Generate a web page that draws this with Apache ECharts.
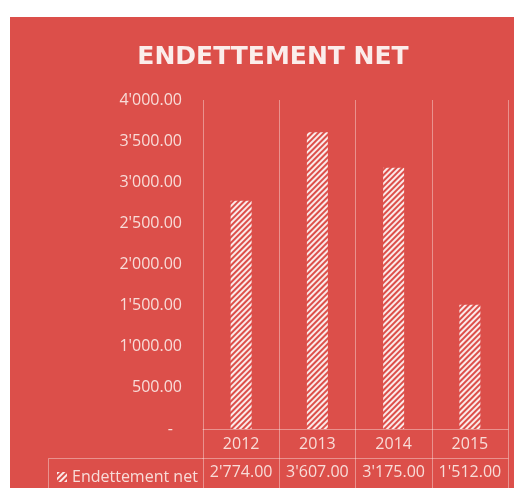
<!DOCTYPE html>
<html>
<head>
<meta charset="utf-8">
<script src="https://cdn.jsdelivr.net/npm/echarts@6/dist/echarts.min.js"></script>
<style>
html,body{margin:0;padding:0;background:#fff;}
#c{width:514px;height:488px;}
</style>
</head>
<body>
<div id="c"></div>
<script>
var titleText = 'ENDETTEMENT NET';
var seriesName = 'Endettement net';
var categories = ['2012', '2013', '2014', '2015'];
var values = [2774, 3607, 3175, 1512];
var yTicks = { min: 0, max: 4000, interval: 500 };

var RED = '#DC4F4A';
var TXT = '#F8DCD8';
var LINE = 'rgba(255,255,255,0.38)';

function fmt(v) {
  var s = v.toFixed(2);
  var parts = s.split('.');
  parts[0] = parts[0].replace(/\B(?=(\d{3})+(?!\d))/g, "'");
  return parts.join('.');
}

var chart = echarts.init(document.getElementById('c'));
chart.setOption({
  backgroundColor: '#ffffff',
  animation: false,
  title: {
    text: titleText,
    left: 268,
    top: 40,
    textAlign: 'center',
    textStyle: { fontFamily: 'DejaVu Sans', fontWeight: 'bold', fontSize: 25, color: '#FBEDEB' }
  },
  graphic: [
    { type: 'rect', z: -100, silent: true, shape: { x: 10, y: 17, width: 504, height: 471 }, style: { fill: RED } },
    { type: 'polyline', z: 5, silent: true, shape: { points: [[203, 458.5], [48.5, 458.5], [48.5, 488]] }, style: { stroke: LINE, lineWidth: 1, fill: null } }
  ],
  legend: {
    left: 52, top: 464,
    icon: 'rect', itemWidth: 10, itemHeight: 10, itemGap: 4,
    textStyle: { fontFamily: 'Open Sans', fontSize: 16, color: TXT },
    data: [seriesName]
  },
  grid: { left: 203, right: 6, top: 100, bottom: 59, containLabel: false },
  xAxis: [
    {
      type: 'category', data: categories, position: 'bottom',
      axisLine: { show: true, lineStyle: { color: LINE, width: 1 } },
      axisTick: { show: true, length: 60, lineStyle: { color: LINE, width: 1 } },
      axisLabel: { fontFamily: 'Open Sans', fontSize: 16, color: TXT, margin: 7, interval: 0 },
      splitLine: { show: true, lineStyle: { color: LINE, width: 1 } }
    },
    {
      type: 'category', data: categories, position: 'bottom', offset: 29,
      axisLine: { show: true, lineStyle: { color: LINE, width: 1 } },
      axisTick: { show: false },
      axisLabel: {
        fontFamily: 'Open Sans', fontSize: 16, color: TXT, margin: 6, interval: 0, hideOverlap: false,
        formatter: function (v, i) { return fmt(values[i]); }
      },
      splitLine: { show: false }
    }
  ],
  yAxis: {
    type: 'value', min: yTicks.min, max: yTicks.max, interval: yTicks.interval,
    axisLine: { show: false }, axisTick: { show: false }, splitLine: { show: false },
    axisLabel: {
      fontFamily: 'Open Sans', fontSize: 16, color: TXT, margin: 21,
      formatter: function (v) { return v === 0 ? '{z|-}' : fmt(v); },
      rich: { z: { fontFamily: 'Open Sans', fontSize: 16, color: TXT, padding: [0, 9, 0, 0] } }
    }
  },
  series: [{
    name: seriesName,
    type: 'bar',
    data: values,
    barWidth: 21,
    itemStyle: {
      color: RED,
      decal: {
        symbol: 'rect', symbolSize: 1, color: 'rgba(255,255,255,0.88)',
        dashArrayX: [1, 0], dashArrayY: [2, 2], rotation: -Math.PI / 4
      }
    }
  }]
});
</script>
</body>
</html>
